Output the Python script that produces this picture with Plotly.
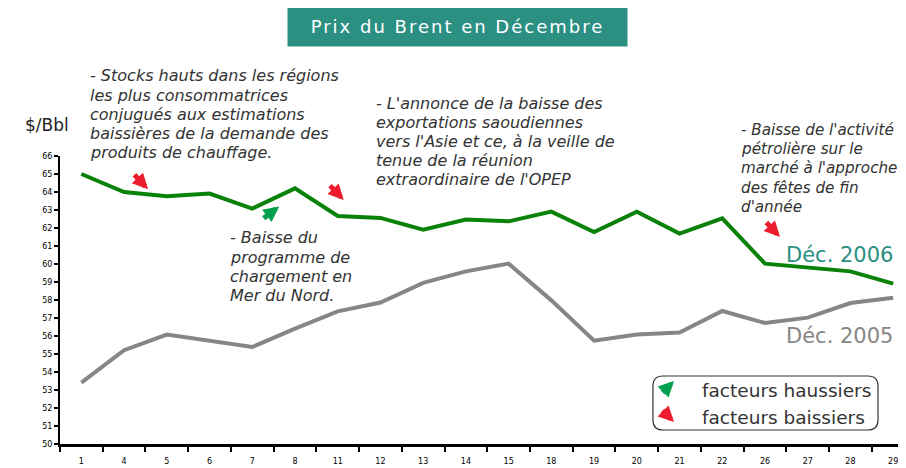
import plotly.graph_objects as go

# jours de décembre (axe catégoriel)
days = ["1", "4", "5", "6", "7", "8", "11", "12", "13", "14",
        "15", "18", "19", "20", "21", "22", "26", "27", "28", "29"]

brent_2006 = [65.0, 64.0, 63.76, 63.91, 63.08, 64.2, 62.67, 62.56, 61.91, 62.47,
              62.37, 62.91, 61.78, 62.91, 61.69, 62.54, 60.02, 59.83, 59.59, 58.91]

brent_2005 = [53.41, 55.21, 56.08, 55.72, 55.39, 56.41, 57.37, 57.86, 58.95, 59.59,
              60.02, 57.98, 55.74, 56.08, 56.19, 57.39, 56.72, 57.02, 57.83, 58.13]

y_ticks = list(range(50, 67))

notes = [
    ["- Stocks hauts dans les régions", "les plus consommatrices",
     "conjugués aux estimations", "baissières de la demande des", "produits de chauffage."],
    ["- L'annonce de la baisse des", "exportations saoudiennes",
     "vers l'Asie et ce, à la veille de", "tenue de la réunion", "extraordinaire de l'OPEP"],
    ["- Baisse de l'activité", "pétrolière sur le", "marché à l'approche",
     "des fêtes de fin", "d'année"],
    ["- Baisse du", "programme de", "chargement en", "Mer du Nord."],
]
# coin gauche / centre de la première ligne, en coordonnées papier
note_pos = [(0.0331, 1.2778), (0.3712, 1.184), (0.8026, 1.0903), (0.1986, 0.7153)]
note_size = [16, 16, 15.2, 16]
LINE_STEP = 19.2 / 288

GREEN = "#0a820a"
GREY = "#868686"
TEAL = "#2b8f82"
UP = "#00a04e"
DOWN = "#ec1c2c"
TXT = "#333333"
FONT = "DejaVu Sans"

# (indice catégorie, valeur, dx, dy, couleur) : pointe de la flèche
arrows = [
    (1.56, 64.15, -15, -16, DOWN),
    (6.14, 63.55, -15, -16, DOWN),
    (4.63, 63.2, -17, 13, UP),
    (16.35, 61.5, -15, -16, DOWN),
]
ARROW = dict(text="", showarrow=True, arrowhead=2, arrowsize=0.62, arrowwidth=5, standoff=0)

fig = go.Figure()
fig.add_trace(go.Scatter(x=days, y=brent_2005, mode="lines", name="Déc. 2005",
                         line=dict(color=GREY, width=4)))
fig.add_trace(go.Scatter(x=days, y=brent_2006, mode="lines", name="Déc. 2006",
                         line=dict(color=GREEN, width=4)))

ann = []
for lines, (px, py), size in zip(notes, note_pos, note_size):
    for i, line in enumerate(lines):
        ann.append(dict(xref="paper", yref="paper", x=px, y=py - i * LINE_STEP, text=line,
                        showarrow=False, xanchor="left", yanchor="middle",
                        font=dict(family=FONT, size=size, color=TXT, style="italic")))

for x, y, dx, dy, col in arrows:
    ann.append(dict(xref="x", yref="y", x=x, y=y, ax=dx, ay=dy, arrowcolor=col, **ARROW))

# légende
ann += [
    dict(xref="paper", yref="paper", x=0.7258, y=0.21875, ax=-13, ay=13, arrowcolor=UP, **ARROW),
    dict(xref="paper", yref="paper", x=0.7258, y=0.0764, ax=-13, ay=-13, arrowcolor=DOWN, **ARROW),
    dict(xref="paper", yref="paper", x=0.7565, y=0.1875, text="facteurs haussiers",
         showarrow=False, xanchor="left", yanchor="middle",
         font=dict(family=FONT, size=18.5, color=TXT)),
    dict(xref="paper", yref="paper", x=0.7565, y=0.09375, text="facteurs baissiers",
         showarrow=False, xanchor="left", yanchor="middle",
         font=dict(family=FONT, size=18.5, color=TXT)),
]

# étiquettes de séries, titre, unité
ann += [
    dict(xref="paper", yref="paper", x=0.987, y=0.656, text="Déc. 2006", showarrow=False,
         xanchor="right", yanchor="middle", font=dict(family=FONT, size=21, color=TEAL)),
    dict(xref="paper", yref="paper", x=0.987, y=0.375, text="Déc. 2005", showarrow=False,
         xanchor="right", yanchor="middle", font=dict(family=FONT, size=21, color=GREY)),
    dict(xref="paper", yref="paper", x=0.4699, y=1.451,
         text='<span style="letter-spacing:2px">Prix du Brent en Décembre</span>',
         showarrow=False, bgcolor=TEAL, width=337, height=38,
         xanchor="center", yanchor="middle",
         font=dict(family=FONT, size=18, color="white")),
    dict(xref="paper", yref="paper", x=-0.0154, y=1.1076, text="$/Bbl", showarrow=False,
         xanchor="center", yanchor="middle", font=dict(family=FONT, size=17, color="#222222")),
]

x0, x1, y0, y1 = 0.7009, 0.9669, 0.0486, 0.2361
rx, ry = 10 / 846, 10 / 288
box = (f"M {x0 + rx},{y1} L {x1 - rx},{y1} Q {x1},{y1} {x1},{y1 - ry} "
       f"L {x1},{y0 + ry} Q {x1},{y0} {x1 - rx},{y0} L {x0 + rx},{y0} "
       f"Q {x0},{y0} {x0},{y0 + ry} L {x0},{y1 - ry} Q {x0},{y1} {x0 + rx},{y1} Z")

# la page ajoute 8 px de marge autour du graphique
fig.update_layout(
    width=898, height=460,
    margin=dict(l=52, r=0, t=148, b=24),
    paper_bgcolor="white", plot_bgcolor="white",
    showlegend=False,
    annotations=ann,
    shapes=[dict(type="path", path=box, xref="paper", yref="paper",
                 line=dict(color="#333333", width=1.2), fillcolor="white", layer="below")],
    font=dict(family=FONT),
)
fig.update_xaxes(type="category", range=[-0.5, 19.3], tickson="boundaries",
                 ticks="outside", ticklen=5, tickwidth=1.5, tickcolor="black",
                 showline=True, linecolor="black", linewidth=2.5, showgrid=False,
                 ticklabelstandoff=8,
                 tickfont=dict(family=FONT, size=8, color="black"))
fig.update_yaxes(range=[50, 66], tickvals=y_ticks, ticks="outside", ticklen=4,
                 tickwidth=1.5, tickcolor="black", showline=True, linecolor="black",
                 linewidth=2, showgrid=False, zeroline=False,
                 tickfont=dict(family=FONT, size=8, color="black"))

fig.write_html("out.html")
